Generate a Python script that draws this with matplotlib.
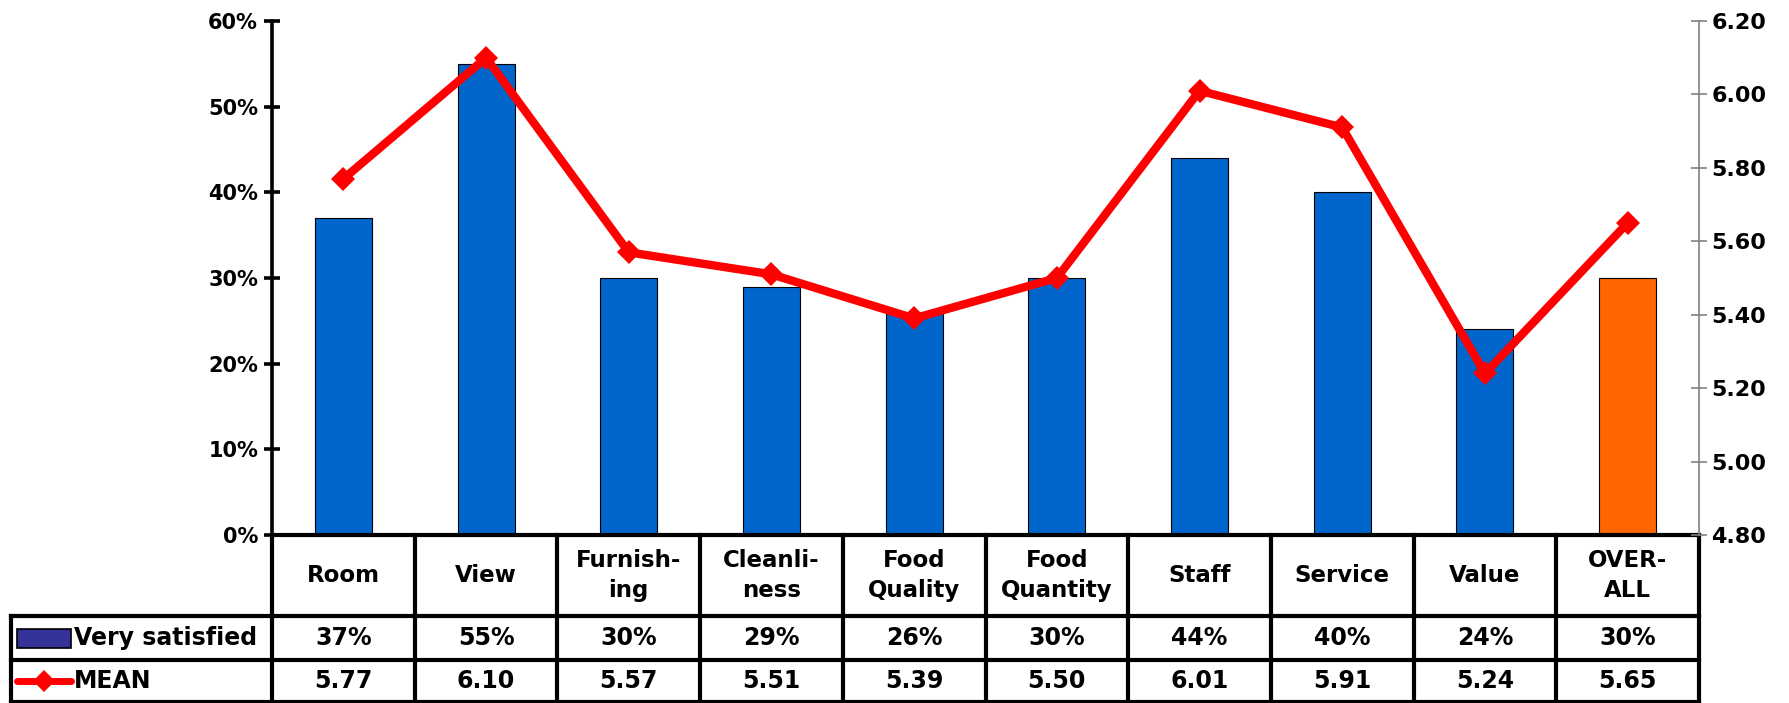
import matplotlib
matplotlib.use('Agg')
import matplotlib.pyplot as plt
import matplotlib.transforms as mtransforms
from matplotlib.lines import Line2D
from matplotlib.patches import Rectangle

# data
categories = ['Room', 'View', 'Furnish-\ning', 'Cleanli-\nness', 'Food\nQuality',
              'Food\nQuantity', 'Staff', 'Service', 'Value', 'OVER-\nALL']
very_satisfied = [37, 55, 30, 29, 26, 30, 44, 40, 24, 30]
mean_scores = [5.77, 6.10, 5.57, 5.51, 5.39, 5.50, 6.01, 5.91, 5.24, 5.65]
bar_colors = ['#0066CC'] * 9 + ['#FF6600']

plt.rcParams['font.family'] = ['DejaVu Sans']
plt.rcParams['font.weight'] = 'bold'

W, H = 1789, 703
fig = plt.figure(figsize=(W / 100, H / 100), dpi=100)
ax_l, ax_r, ax_t, ax_b = 272, 1699, 21, 535
ax = fig.add_axes([ax_l / W, 1 - ax_b / H, (ax_r - ax_l) / W, (ax_b - ax_t) / H])

n = len(categories)
x = list(range(n))
ax.bar(x, very_satisfied, width=0.4, color=bar_colors, edgecolor='black', linewidth=0.8, zorder=2)
ax.set_xlim(-0.5, n - 0.5)
ax.set_ylim(0, 60)
ax.set_yticks(range(0, 61, 10))
ax.set_yticklabels([f'{v}%' for v in range(0, 61, 10)], fontsize=15, fontweight='bold')
ax.set_xticks([])
for s in ['top', 'bottom', 'right']:
    ax.spines[s].set_visible(False)
ax.spines['left'].set_linewidth(2.6)
ax.tick_params(axis='y', direction='inout', length=12, width=2.6, pad=4)

ax2 = ax.twinx()
ax2.plot(x, mean_scores, color='#FF0000', linewidth=6, marker='D', markersize=12,
         markeredgewidth=0, zorder=3)
ax2.set_ylim(4.8, 6.2)
ax2.set_yticks([4.8 + 0.2 * i for i in range(8)])
ax2.set_yticklabels([f'{4.8 + 0.2 * i:.2f}' for i in range(8)], fontsize=16, fontweight='bold')
for s in ['top', 'bottom', 'left']:
    ax2.spines[s].set_visible(False)
ax2.spines['right'].set_color('#808080')
ax2.spines['right'].set_linewidth(1.2)
ax2.tick_params(axis='y', direction='inout', length=12, width=1.2, color='#808080', pad=3)

# data table under the plot
trans = mtransforms.blended_transform_factory(ax.transData, ax.transAxes)
ph = ax_b - ax_t
y_head = 0.0
y_r1 = (ax_b - 616) / ph
y_r2 = (ax_b - 660) / ph
y_bot = (ax_b - 702) / ph
x_leg = -0.5 - (ax_l - 11) / ((ax_r - ax_l) / n)
lw = 3.0

def hline(x0, x1, y):
    ax.add_line(Line2D([x0, x1], [y, y], transform=trans, color='black', lw=lw,
                       clip_on=False, solid_capstyle='projecting'))

def vline(xx, y0, y1):
    ax.add_line(Line2D([xx, xx], [y0, y1], transform=trans, color='black', lw=lw,
                       clip_on=False, solid_capstyle='projecting'))

hline(-0.5, n - 0.5, y_head)
hline(x_leg, n - 0.5, y_r1)
hline(x_leg, n - 0.5, y_r2)
hline(x_leg, n - 0.5, y_bot)
for i in range(n + 1):
    vline(i - 0.5, y_head, y_bot)
vline(x_leg, y_r1, y_bot)

fs = 17
for i in range(n):
    ax.text(i, (y_head + y_r1) / 2, categories[i], transform=trans, ha='center', va='center',
            fontsize=fs - 0.5, fontweight='bold', linespacing=1.4, clip_on=False)
    ax.text(i, (y_r1 + y_r2) / 2, f'{very_satisfied[i]}%', transform=trans, ha='center',
            va='center', fontsize=fs, fontweight='bold', clip_on=False)
    ax.text(i, (y_r2 + y_bot) / 2, f'{mean_scores[i]:.2f}', transform=trans, ha='center',
            va='center', fontsize=fs, fontweight='bold', clip_on=False)

# legend keys in the first column
unit = n / (ax_r - ax_l)
kx0 = -0.5 + (17 - ax_l) * unit
kx1 = -0.5 + (71 - ax_l) * unit
tx = -0.5 + (74 - ax_l) * unit
ym1 = (y_r1 + y_r2) / 2
kh = 19 / ph
ax.add_patch(Rectangle((kx0, ym1 - kh / 2), kx1 - kx0, kh, transform=trans,
                       facecolor='#333399', edgecolor='black', lw=1.2, clip_on=False))
ax.text(tx, ym1, 'Very satisfied', transform=trans, ha='left', va='center',
        fontsize=fs, fontweight='bold', clip_on=False)
ym2 = (y_r2 + y_bot) / 2
ax.add_line(Line2D([kx0, kx1], [ym2, ym2], transform=trans, color='#FF0000', lw=5,
                   clip_on=False, solid_capstyle='round'))
ax.add_line(Line2D([(kx0 + kx1) / 2], [ym2], transform=trans, color='#FF0000',
                   marker='D', markersize=11, markeredgewidth=0, clip_on=False))
ax.text(tx, ym2, 'MEAN', transform=trans, ha='left', va='center',
        fontsize=fs, fontweight='bold', clip_on=False)

fig.savefig('out.png', dpi=100)
